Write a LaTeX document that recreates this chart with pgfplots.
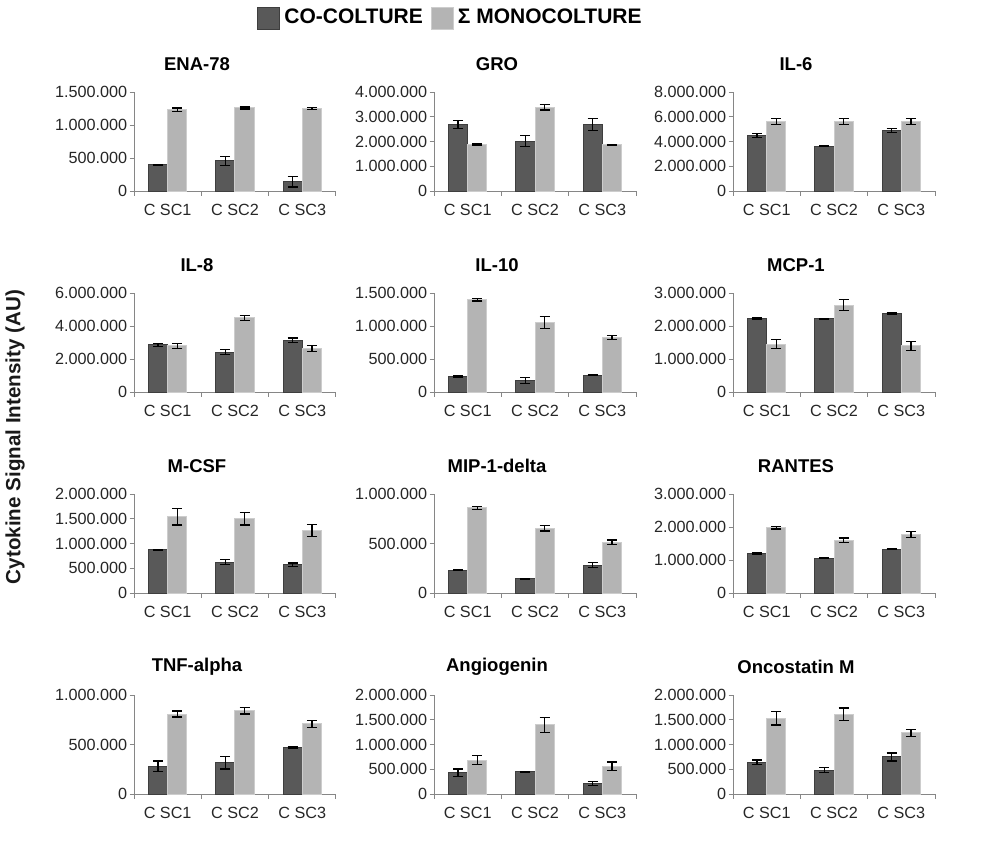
\documentclass[border=0pt]{standalone}
\usepackage{fontspec}
\setmainfont{Liberation Sans}
\usepackage{pgfplots}
\usepackage{pgfplotstable}
\pgfplotsset{compat=1.18}
\definecolor{darkbar}{RGB}{89,89,89}
\definecolor{darkedge}{RGB}{62,62,62}
\definecolor{lightbar}{RGB}{180,180,180}
\definecolor{lightedge}{RGB}{205,205,205}
\definecolor{axisgray}{RGB}{134,134,134}

% columns: x co coe mono monoe
\pgfplotstableread{
x co coe mono monoe
1 400000 6000 1232000 25000
2 455000 65000 1258000 15000
3 141000 80000 1247000 15000
}\ENA
\pgfplotstableread{
x co coe mono monoe
1 2680000 160000 1872000 25000
2 2020000 230000 3380000 110000
3 2680000 240000 1870000 25000
}\GRO
\pgfplotstableread{
x co coe mono monoe
1 4470000 160000 5630000 260000
2 3610000 40000 5630000 260000
3 4900000 180000 5630000 260000
}\ILsix
\pgfplotstableread{
x co coe mono monoe
1 2850000 80000 2800000 150000
2 2420000 140000 4490000 170000
3 3140000 130000 2640000 180000
}\ILeight
\pgfplotstableread{
x co coe mono monoe
1 237000 10000 1400000 20000
2 176000 48000 1052000 95000
3 257000 10000 825000 33000
}\ILten
\pgfplotstableread{
x co coe mono monoe
1 2225000 20000 1450000 140000
2 2215000 10000 2630000 170000
3 2386000 20000 1400000 130000
}\MCP
\pgfplotstableread{
x co coe mono monoe
1 874000 10000 1543000 170000
2 620000 50000 1503000 130000
3 570000 37000 1265000 120000
}\MCSF
\pgfplotstableread{
x co coe mono monoe
1 232000 7000 861000 15000
2 142000 7000 656000 30000
3 281000 25000 513000 23000
}\MIP
\pgfplotstableread{
x co coe mono monoe
1 1200000 20000 1980000 40000
2 1050000 15000 1596000 70000
3 1333000 15000 1778000 90000
}\RANTES
\pgfplotstableread{
x co coe mono monoe
1 281000 53000 808000 31000
2 318000 65000 839000 31000
3 469000 5000 709000 34000
}\TNF
\pgfplotstableread{
x co coe mono monoe
1 429000 75000 687000 88000
2 449000 10000 1400000 153000
3 211000 40000 558000 88000
}\ANG
\pgfplotstableread{
x co coe mono monoe
1 640000 48000 1530000 136000
2 483000 48000 1612000 126000
3 748000 82000 1238000 68000
}\ONC

\pgfplotsset{
  panel/.style={
    anchor=south west,
    scale only axis,
    width=101pt, height=49.5pt,
    xmin=0.5, xmax=3.5, ymin=0,
    axis x line=bottom, axis y line=left,
    axis line style={-, draw=axisgray, line width=0.5pt},
    tick align=outside,
    major tick length=2.25pt,
    tick style={draw=axisgray, line width=0.5pt},
    xtick={0.5,1.5,2.5,3.5},
    x tick label as interval,
    xticklabels={C SC1,C SC2,C SC3},
    xticklabel style={yshift=-1pt},
    scaled y ticks=false,
    ticklabel style={font=\fontsize{8.1}{9.5}\selectfont, text=black!85},
    yticklabel style={inner xsep=1pt, /pgf/number format/.cd, fixed, 1000 sep={.}, assume math mode=true},
    title style={at={(axis description cs:0.5,1)}, anchor=center, xshift=-19pt, yshift=8pt,
                 font=\bfseries\fontsize{9.25}{11}\selectfont},
    legend image code/.code={\draw[#1, line width=0.5pt] (0pt,-5.5pt) rectangle (11pt,5.5pt);},
  },
  codark/.style={ybar, bar width=0.285, bar shift=0pt, fill=darkbar, draw=darkedge, line width=0.5pt,
    error bars/.cd, y dir=both, y explicit, error mark=|,
    error bar style={black, line width=0.6pt},
    error mark options={black, mark size=2.5pt, line width=0.6pt}},
  colight/.style={ybar, bar width=0.285, bar shift=0pt, fill=lightbar, draw=lightedge, line width=0.5pt,
    error bars/.cd, y dir=both, y explicit, error mark=|,
    error bar style={black, line width=0.6pt},
    error mark options={black, mark size=2.5pt, line width=0.6pt}},
}
\newcommand{\twobars}[1]{%
  \addplot[codark] table[x expr=\thisrow{x}-0.1425, y=co, y error=coe]{#1};
  \addplot[colight] table[x expr=\thisrow{x}+0.1425, y=mono, y error=monoe]{#1};
}

\begin{document}
\begin{tikzpicture}
\useasboundingbox (0,0) rectangle (500pt,-429pt);

% Row 1
\begin{axis}[panel, at={(67pt,-95.5pt)}, title={ENA-78}, ymax=1500000, ytick={0,500000,1000000,1500000},
  legend columns=2,
  legend style={at={(axis description cs:1.572,1.747)}, anchor=center, draw=none, fill=none,
    font=\bfseries\fontsize{10.5}{12}\selectfont,
    /tikz/every even column/.append style={column sep=2pt}}]
\twobars{\ENA}
\legend{CO-COLTURE, Σ\ MONOCOLTURE}
\end{axis}
\begin{axis}[panel, at={(217pt,-95.5pt)}, title={GRO}, ymax=4000000, ytick={0,1000000,2000000,3000000,4000000}]
\twobars{\GRO}
\end{axis}
\begin{axis}[panel, at={(366.5pt,-95.5pt)}, title={IL-6}, ymax=8000000, ytick={0,2000000,4000000,6000000,8000000}]
\twobars{\ILsix}
\end{axis}

% Row 2
\begin{axis}[panel, at={(67pt,-196pt)}, title={IL-8}, ymax=6000000, ytick={0,2000000,4000000,6000000}]
\twobars{\ILeight}
\end{axis}
\begin{axis}[panel, at={(217pt,-196pt)}, title={IL-10}, ymax=1500000, ytick={0,500000,1000000,1500000}]
\twobars{\ILten}
\end{axis}
\begin{axis}[panel, at={(366.5pt,-196pt)}, title={MCP-1}, ymax=3000000, ytick={0,1000000,2000000,3000000}]
\twobars{\MCP}
\end{axis}

% Row 3
\begin{axis}[panel, at={(67pt,-296.5pt)}, title={M-CSF}, ymax=2000000, ytick={0,500000,1000000,1500000,2000000}]
\twobars{\MCSF}
\end{axis}
\begin{axis}[panel, at={(217pt,-296.5pt)}, title={MIP-1-delta}, ymax=1000000, ytick={0,500000,1000000}]
\twobars{\MIP}
\end{axis}
\begin{axis}[panel, at={(366.5pt,-296.5pt)}, title={RANTES}, ymax=3000000, ytick={0,1000000,2000000,3000000}]
\twobars{\RANTES}
\end{axis}

% Row 4
\begin{axis}[panel, at={(67pt,-397pt)}, title={TNF-alpha}, ymax=1000000, ytick={0,500000,1000000}]
\twobars{\TNF}
\end{axis}
\begin{axis}[panel, at={(217pt,-397pt)}, title={Angiogenin}, ymax=2000000, ytick={0,500000,1000000,1500000,2000000}]
\twobars{\ANG}
\end{axis}
\begin{axis}[panel, at={(366.5pt,-397pt)}, title={Oncostatin M}, ymax=2000000, ytick={0,500000,1000000,1500000,2000000}]
\twobars{\ONC}
\end{axis}

\node[rotate=90, font=\bfseries\fontsize{10.3}{12}\selectfont, text=black!90] at (7.5pt,-218.5pt) {Cytokine Signal Intensity (AU)};
\end{tikzpicture}
\end{document}
